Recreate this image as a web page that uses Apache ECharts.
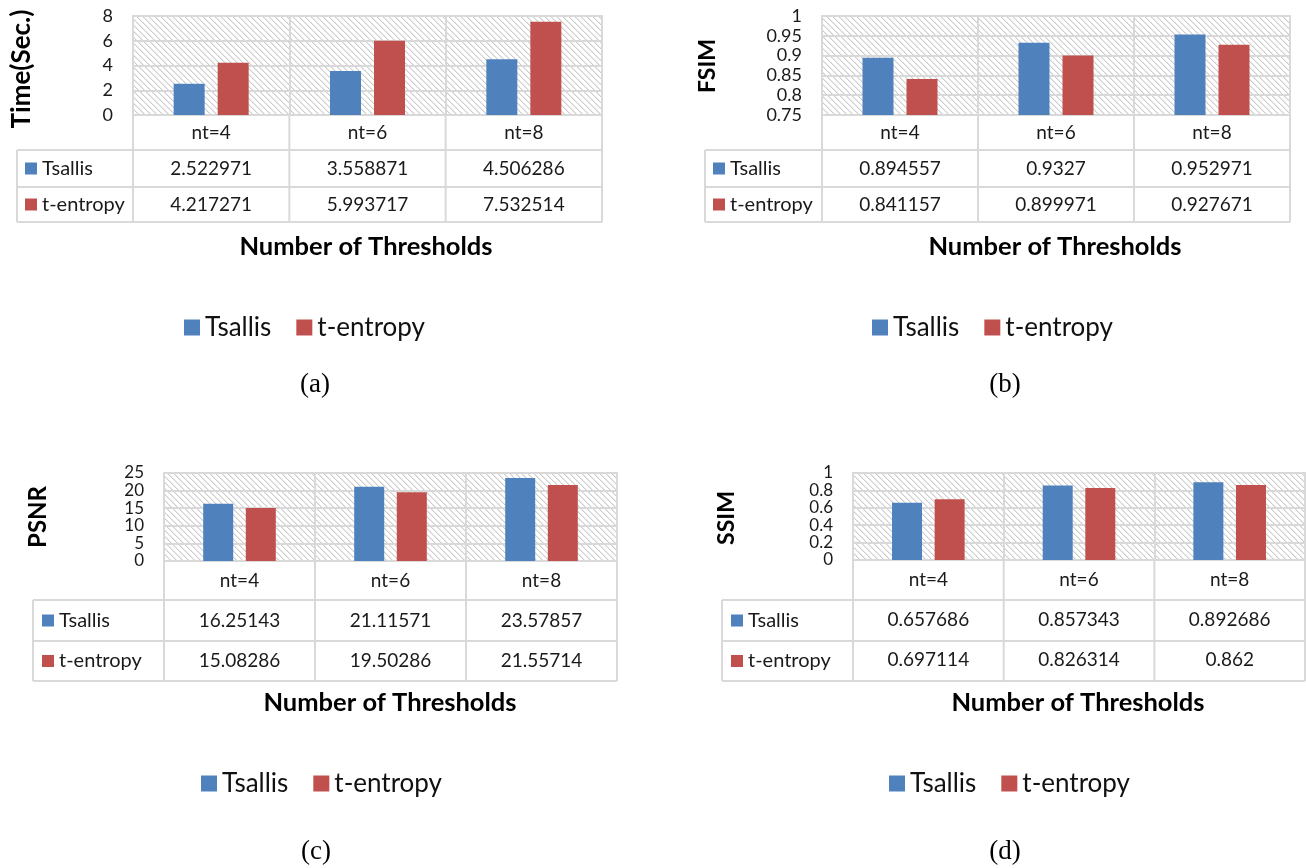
<!DOCTYPE html>
<html>
<head>
<meta charset="utf-8">
<script src="https://cdn.jsdelivr.net/npm/echarts@6/dist/echarts.min.js"></script>
<style>
html,body{margin:0;padding:0;background:#fff;}
#chart{width:1306px;height:868px;}
</style>
</head>
<body>
<div id="chart"></div>
<script>
// ---- data ----
const categories = ['nt=4', 'nt=6', 'nt=8'];
const seriesNames = ['Tsallis', 't-entropy'];
const timeTsallis = [2.522971, 3.558871, 4.506286];
const timeTEntropy = [4.217271, 5.993717, 7.532514];
const fsimTsallis = [0.894557, 0.9327, 0.952971];
const fsimTEntropy = [0.841157, 0.899971, 0.927671];
const psnrTsallis = [16.25143, 21.11571, 23.57857];
const psnrTEntropy = [15.08286, 19.50286, 21.55714];
const ssimTsallis = [0.657686, 0.857343, 0.892686];
const ssimTEntropy = [0.697114, 0.826314, 0.862];
const yAxisNames = ['Time(Sec.)', 'FSIM', 'PSNR', 'SSIM'];
const xAxisTitle = 'Number of Thresholds';
const captions = ['(a)', '(b)', '(c)', '(d)'];

// ---- layout / style ----
const FONT = 'Lato, "Open Sans", sans-serif';
const GRID_COLOR = '#d9d9d9';
const COLORS = ['#4f81bd', '#c0504d'];

const panels = [
  { ts: timeTsallis, te: timeTEntropy, min: 0, max: 8, interval: 2,
    left: 133, top: 16, right: 602, bottom: 115, rows: [150, 187, 222], lineH: 36,
    tableLeft: 17, legSqX: 25, yNameX: 22, yNameY: 69, yNameSize: 26, tickSize: 18,
    titleX: 366, titleY: 247, legLeft: 184, legTop: 314, capX: 315, capY: 385, barW: 31 },
  { ts: fsimTsallis, te: fsimTEntropy, min: 0.75, max: 1, interval: 0.05,
    left: 822, top: 16, right: 1290, bottom: 115, rows: [150, 187, 222], lineH: 36,
    tableLeft: 705, legSqX: 713, yNameX: 708, yNameY: 66, yNameSize: 23, tickSize: 18,
    titleX: 1055, titleY: 247, legLeft: 872, legTop: 314, capX: 1005, capY: 385, barW: 31 },
  { ts: psnrTsallis, te: psnrTEntropy, min: 0, max: 25, interval: 5,
    left: 164, top: 473, right: 617, bottom: 561, rows: [600, 641, 681], lineH: 40,
    tableLeft: 33, legSqX: 42, yNameX: 38, yNameY: 517, yNameSize: 24, tickSize: 17,
    titleX: 390, titleY: 703, legLeft: 201, legTop: 770, capX: 316, capY: 852, barW: 30 },
  { ts: ssimTsallis, te: ssimTEntropy, min: 0, max: 1, interval: 0.2,
    left: 853, top: 473, right: 1305, bottom: 560, rows: [600, 641, 681], lineH: 40,
    tableLeft: 722, legSqX: 731, yNameX: 727, yNameY: 518, yNameSize: 23, tickSize: 17,
    titleX: 1078, titleY: 703, legLeft: 889, legTop: 770, capX: 1005, capY: 852, barW: 30 }
];

// hatch pattern
function makeHatch() {
  const s = 6;
  const c = document.createElement('canvas');
  c.width = s; c.height = s;
  const ctx = c.getContext('2d');
  const img = ctx.createImageData(s, s);
  for (let y = 0; y < s; y++) {
    for (let x = 0; x < s; x++) {
      const d = ((x - y) % s + s) % s;
      let v = 255;
      if (d === 0) v = 205;
      else if (d === 1) v = 232;
      const i = (y * s + x) * 4;
      img.data[i] = v; img.data[i + 1] = v; img.data[i + 2] = v; img.data[i + 3] = 255;
    }
  }
  ctx.putImageData(img, 0, 0);
  return c;
}
const hatch = { image: makeHatch(), repeat: 'repeat' };

const grids = [], xAxes = [], yAxes = [], series = [], legends = [], graphics = [];

function line(x1, y1, x2, y2) {
  graphics.push({ type: 'line', shape: { x1, y1, x2, y2 },
    style: { stroke: GRID_COLOR, lineWidth: 2 }, silent: true });
}

panels.forEach((p, i) => {
  const w = p.right - p.left, h = p.bottom - p.top;
  grids.push({ left: p.left, top: p.top, width: w, height: h, show: true,
    backgroundColor: hatch, borderColor: GRID_COLOR, borderWidth: 2, containLabel: false });
  xAxes.push({ type: 'category', gridIndex: i, data: categories,
    axisLine: { show: false }, axisTick: { show: false },
    splitLine: { show: true, lineStyle: { color: GRID_COLOR, width: 2 } },
    axisLabel: { interval: 0, margin: 0, fontFamily: FONT, fontSize: 19, color: '#1a1a1a',
      lineHeight: p.lineH,
      formatter: (v, idx) => v + '\n' + String(p.ts[idx]) + '\n' + String(p.te[idx]) } });
  yAxes.push({ type: 'value', gridIndex: i, min: p.min, max: p.max, interval: p.interval,
    axisLine: { show: false }, axisTick: { show: false },
    splitLine: { show: true, lineStyle: { color: GRID_COLOR, width: 2 } },
    axisLabel: { margin: 20, fontFamily: FONT, fontSize: p.tickSize, color: '#1a1a1a',
      showMinLabel: true, showMaxLabel: true, hideOverlap: false, lineHeight: p.tickSize } });
  series.push({ type: 'bar', name: seriesNames[0], xAxisIndex: i, yAxisIndex: i,
    data: p.ts, barWidth: p.barW, barGap: '42%', itemStyle: { color: COLORS[0] } });
  series.push({ type: 'bar', name: seriesNames[1], xAxisIndex: i, yAxisIndex: i,
    data: p.te, barWidth: p.barW, barGap: '42%', itemStyle: { color: COLORS[1] } });

  // table legend (inside table rows)
  const r1 = (p.rows[0] + p.rows[1]) / 2, r2 = (p.rows[1] + p.rows[2]) / 2;
  [r1, r2].forEach((rc, k) => {
    legends.push({ data: [seriesNames[k]], left: p.legSqX, top: rc - 11, padding: 0,
      icon: 'rect', itemWidth: 12, itemHeight: 12, itemGap: 5, selectedMode: false,
      textStyle: { fontFamily: FONT, fontSize: 20, color: '#1a1a1a', lineHeight: 22 } });
  });
  // bottom legend
  legends.push({ data: seriesNames, left: p.legLeft, top: p.legTop, padding: 0,
    icon: 'rect', itemWidth: 16, itemHeight: 16, itemGap: 25, selectedMode: false,
    textStyle: { fontFamily: FONT, fontSize: 26, color: '#111', lineHeight: 27 } });

  // table lines
  line(p.tableLeft, p.rows[0], p.right, p.rows[0]);
  line(p.tableLeft, p.rows[1], p.right, p.rows[1]);
  line(p.tableLeft, p.rows[2], p.right, p.rows[2]);
  line(p.tableLeft, p.rows[0], p.tableLeft, p.rows[2]);
  for (let k = 0; k <= categories.length; k++) {
    const x = p.left + k * w / categories.length;
    line(x, p.bottom, x, p.rows[2]);
  }

  // y axis title
  graphics.push({ type: 'text', x: p.yNameX, y: p.yNameY, rotation: Math.PI / 2,
    style: { text: yAxisNames[i], fontFamily: FONT, fontWeight: 'bold', fontSize: p.yNameSize,
      fill: '#000', align: 'center', verticalAlign: 'middle' } });
  // x axis title
  graphics.push({ type: 'text', x: p.titleX, y: p.titleY,
    style: { text: xAxisTitle, fontFamily: FONT, fontWeight: 'bold', fontSize: 25.5,
      fill: '#000', align: 'center', verticalAlign: 'middle' } });
  // caption
  graphics.push({ type: 'text', x: p.capX, y: p.capY,
    style: { text: captions[i], fontFamily: '"Liberation Serif", "Times New Roman", serif',
      fontSize: 27, fill: '#000', align: 'center', verticalAlign: 'middle' } });
});

const chart = echarts.init(document.getElementById('chart'), null, { renderer: 'canvas' });
chart.setOption({
  backgroundColor: '#fff',
  animation: false,
  grid: grids,
  xAxis: xAxes,
  yAxis: yAxes,
  series: series,
  legend: legends,
  graphic: graphics
});
</script>
</body>
</html>
